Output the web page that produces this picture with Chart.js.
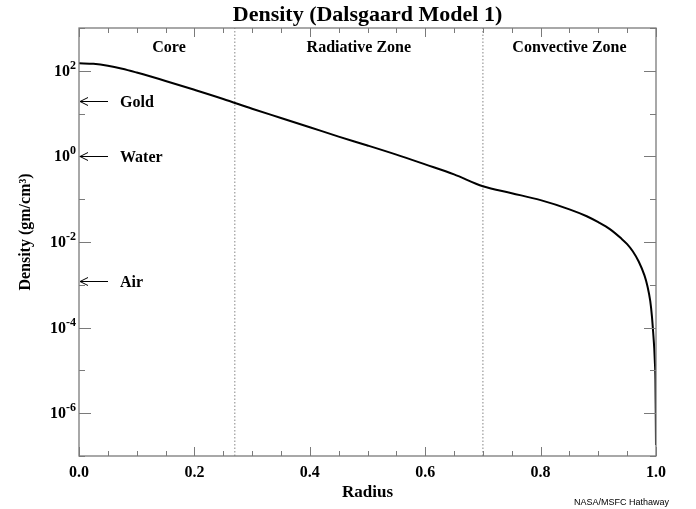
<!DOCTYPE html>
<html>
<head>
<meta charset="utf-8">
<script src="https://cdn.jsdelivr.net/npm/chart.js@4"></script>
<style>
  html, body { margin: 0; padding: 0; background: #fff; }
  #wrap { width: 696px; height: 509px; }
</style>
</head>
<body>
<div id="wrap"><canvas id="density-chart" width="696" height="509"></canvas></div>
<script>
// radius (fraction of solar radius) and density in gm/cm^3
var radius  = [0, 0.025, 0.05, 0.075, 0.1, 0.15, 0.2, 0.25, 0.3, 0.35, 0.4, 0.45, 0.5, 0.55, 0.6, 0.65, 0.7,
               0.75, 0.8, 0.85, 0.88, 0.9, 0.92, 0.94, 0.95, 0.96, 0.97, 0.98, 0.985, 0.99, 0.993, 0.995,
               0.997, 0.998, 0.999, 0.9995, 1.0];
var density = [150, 146, 132, 112, 91, 58, 36, 22, 13, 7.9, 4.8, 2.9, 1.8, 1.1, 0.65, 0.38, 0.2,
               0.138, 0.095, 0.058, 0.04, 0.029, 0.02, 0.012, 0.0089, 0.006, 0.0035, 0.00166, 0.00095, 0.00042, 0.00018, 0.00008,
               0.000032, 0.000016, 0.0000063, 0.0000013, 0.00000018];

var zoneEdges  = [0.27, 0.70];
var zoneNames  = ['Core', 'Radiative Zone', 'Convective Zone'];
var zoneCenter = [0.156, 0.485, 0.85];

var refNames  = ['Gold', 'Water', 'Air'];
var refValues = [19.3, 1.0, 0.0012];

var yTickExp = [2, 0, -2, -4, -6];
var xTicks   = [0, 0.2, 0.4, 0.6, 0.8, 1.0];

var serif = '"Liberation Serif", "Times New Roman", serif';

var points = radius.map(function (r, i) { return { x: r, y: density[i] }; });

var edgeSets = zoneEdges.map(function (e) {
    return {
        data: [{ x: e, y: 1e-7 }, { x: e, y: 1e3 }],
        borderColor: '#9a9a9a',
        borderWidth: 1.2,
        borderDash: [1.5, 2],
        pointRadius: 0,
        fill: false
    };
});

var frame = {
    id: 'frame',
    afterDraw: function (chart) {
        var ctx = chart.ctx;
        var a = chart.chartArea;
        var xs = chart.scales.x, ys = chart.scales.y;
        ctx.save();

        // box
        ctx.strokeStyle = '#7a7a7a';
        ctx.lineWidth = 1.3;
        ctx.strokeRect(a.left, a.top, a.right - a.left, a.bottom - a.top);

        // x ticks, inward on bottom and top
        ctx.lineWidth = 1;
        for (var i = 0; i <= 20; i++) {
            var v = i * 0.05;
            var px = Math.round(xs.getPixelForValue(v)) + 0.5;
            var len = (i % 4 === 0) ? 9 : 5;
            ctx.beginPath();
            ctx.moveTo(px, a.bottom); ctx.lineTo(px, a.bottom - len);
            ctx.moveTo(px, a.top); ctx.lineTo(px, a.top + len);
            ctx.stroke();
        }
        // y ticks, every decade
        for (var e = -7; e <= 3; e++) {
            var py = Math.round(ys.getPixelForValue(Math.pow(10, e))) + 0.5;
            var l = (e % 2 === 0) ? 12 : 6;
            ctx.beginPath();
            ctx.moveTo(a.left, py); ctx.lineTo(a.left + l, py);
            ctx.moveTo(a.right, py); ctx.lineTo(a.right - l, py);
            ctx.stroke();
        }

        ctx.fillStyle = '#000';
        // title
        ctx.font = 'bold 22px ' + serif;
        ctx.textAlign = 'center';
        ctx.textBaseline = 'alphabetic';
        ctx.fillText('Density (Dalsgaard Model 1)', (a.left + a.right) / 2, 21);

        // x tick labels
        ctx.font = 'bold 16px ' + serif;
        xTicks.forEach(function (t) {
            ctx.fillText(t.toFixed(1), xs.getPixelForValue(t), 477);
        });
        ctx.font = 'bold 17px ' + serif;
        ctx.fillText('Radius', (a.left + a.right) / 2, 497);

        // y tick labels 10^n
        yTickExp.forEach(function (n) {
            var py = ys.getPixelForValue(Math.pow(10, n));
            ctx.font = 'bold 12px ' + serif;
            ctx.textAlign = 'right';
            var exp = String(n);
            var ew = ctx.measureText(exp).width;
            ctx.fillText(exp, 76, py - 2);
            ctx.font = 'bold 16px ' + serif;
            ctx.fillText('10', 76 - ew, py + 5);
        });

        // y axis title
        ctx.save();
        ctx.translate(30, 232);
        ctx.rotate(-Math.PI / 2);
        ctx.textAlign = 'center';
        ctx.font = 'bold 16px ' + serif;
        ctx.fillText('Density (gm/cm\u00B3)', 0, 0);
        ctx.restore();

        // zone names
        ctx.font = 'bold 16px ' + serif;
        ctx.textAlign = 'center';
        zoneNames.forEach(function (z, i) {
            ctx.fillText(z, xs.getPixelForValue(zoneCenter[i]), 52);
        });

        // reference arrows
        ctx.strokeStyle = '#000';
        ctx.lineWidth = 1;
        ctx.textAlign = 'left';
        refNames.forEach(function (nm, i) {
            var py = Math.round(ys.getPixelForValue(refValues[i])) + 0.5;
            ctx.beginPath();
            ctx.moveTo(a.left + 1, py); ctx.lineTo(a.left + 29, py);
            ctx.moveTo(a.left + 9, py - 4); ctx.lineTo(a.left + 1, py); ctx.lineTo(a.left + 9, py + 4);
            ctx.stroke();
            ctx.fillText(nm, 120, py + 5);
        });

        // credit
        ctx.font = '9px "Liberation Sans", Arial, sans-serif';
        ctx.textAlign = 'right';
        ctx.fillText('NASA/MSFC Hathaway', 669, 505);
        ctx.restore();
    }
};

var ctx = document.getElementById('density-chart').getContext('2d');
var chart = new Chart(ctx, {
    type: 'line',
    data: {
        datasets: [{
            label: 'Density',
            data: points,
            borderColor: '#000',
            borderWidth: 2,
            pointRadius: 0,
            cubicInterpolationMode: 'monotone',
            fill: false
        }].concat(edgeSets)
    },
    options: {
        responsive: false,
        animation: false,
        layout: { padding: { left: 79, right: 40, top: 28, bottom: 53 } },
        plugins: { legend: { display: false }, tooltip: { enabled: false } },
        scales: {
            x: { type: 'linear', min: 0, max: 1, display: false },
            y: { type: 'logarithmic', min: 1e-7, max: 1e3, display: false }
        }
    },
    plugins: [frame]
});
</script>
</body>
</html>
